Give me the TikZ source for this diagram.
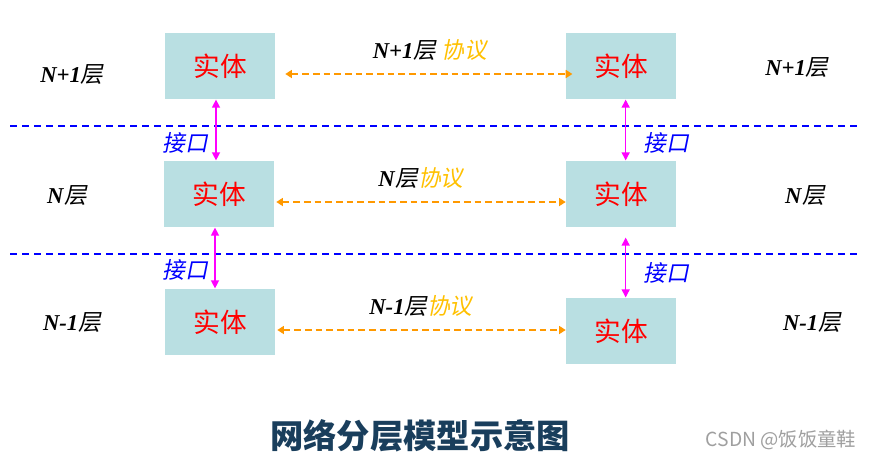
\documentclass[tikz,border=0pt]{standalone}
\usepackage{fontspec}
\setmainfont{Liberation Serif}
\newfontfamily\cjk{Noto Sans CJK SC}
\newfontfamily\cjkit{Noto Sans CJK SC}[FakeSlant=0.2]
\usetikzlibrary{arrows.meta}
\definecolor{boxblue}{RGB}{185,223,226}
\definecolor{protoorange}{RGB}{255,153,0}
\definecolor{protoyellow}{RGB}{255,192,0}
\definecolor{titleblue}{RGB}{25,62,92}
\definecolor{ifacepink}{RGB}{255,0,255}
\newcommand{\lyr}[1]{\textbf{\textit{#1}}{\cjkit 层}}

\tikzset{
  entity/.style={fill=boxblue,minimum width=82.5pt,minimum height=50pt,inner sep=0pt,
    font=\cjk\fontsize{20}{24}\selectfont,text=red},
  proto/.style={{Triangle[width=6pt,length=5pt]}-{Triangle[width=6pt,length=5pt]},protoorange,line width=1.4pt,
    dash pattern=on 5pt off 3pt},
  iface/.style={{Triangle[width=6pt,length=6pt]}-{Triangle[width=6pt,length=6pt]},ifacepink,line width=1pt},
  sep/.style={blue,line width=1.4pt,dash pattern=on 5.5pt off 3.5pt},
  lbl/.style={font=\fontsize{17}{20}\selectfont},
}

\begin{document}
\begin{tikzpicture}[x=0.75pt,y=-0.75pt]
\useasboundingbox (0,0) rectangle (871,457);
% entities
\node[entity] (ul) at (220,66) {实体};
\node[entity] (ur) at (621,66) {实体};
\node[entity] (ml) at (219,194) {实体};
\node[entity] (mr) at (621,194) {实体};
\node[entity] (ll) at (220,322) {实体};
\node[entity] (lr) at (621,331) {实体};
% layer separators
\foreach \n/\y in {1/126,2/254} {
  \coordinate (s\n a) at (10,\y);
  \coordinate (s\n b) at (857,\y);
  \draw[sep] (s\n a) -- (s\n b);
}
% layer names
\node[lbl] (l1) at (72,75) {\lyr{N+1}};
\node[lbl] (l2) at (67,196) {\lyr{N}};
\node[lbl] (l3) at (72,323) {\lyr{N-1}};
\node[lbl] (r1) at (797,68) {\lyr{N+1}};
\node[lbl] (r2) at (805,196) {\lyr{N}};
\node[lbl] (r3) at (812,323) {\lyr{N-1}};
% protocols
\node[lbl] (p1) at (430,50) {\lyr{N+1}\ {\cjkit\color{protoyellow}协议}};
\node[lbl] (p2) at (421,178) {\lyr{N}{\cjkit\color{protoyellow}协议}};
\node[lbl] (p3) at (421,306) {\lyr{N-1}{\cjkit\color{protoyellow}协议}};
\draw[proto,shorten <=7.5pt,shorten >=-5pt] ([yshift=-6pt]ul.east) -- ([yshift=-6pt]ul.east -| ur.west);
\draw[proto,shorten <=1.5pt] ([yshift=-6pt]ml.east) -- ([yshift=-6pt]ml.east -| mr.west);
\draw[proto,shorten <=1.5pt] ([yshift=-6pt]ll.east) -- ([yshift=-6pt]ll.east -| lr.west);
% interfaces
\node[lbl,text=blue] (i1) at (185,143) {\cjkit 接口};
\node[lbl,text=blue] (i2) at (666,143) {\cjkit 接口};
\node[lbl,text=blue] (i3) at (185,270) {\cjkit 接口};
\node[lbl,text=blue] (i4) at (666,273) {\cjkit 接口};
\draw[iface] ([xshift=-3pt]ul.south) -- ([xshift=-3pt]ul.south |- ml.north);
\draw[iface] ([xshift=3.5pt]ur.south) -- ([xshift=3.5pt]ur.south |- mr.north);
\draw[iface] ([xshift=-3pt]ml.south) -- ([xshift=-3pt]ml.south |- ll.north);
\draw[iface,shorten <=7.5pt] ([xshift=3.5pt]mr.south) -- ([xshift=3.5pt]mr.south |- lr.north);
% title
\node[font=\cjk\bfseries\fontsize{25}{30}\selectfont,text=titleblue] (title) at (420,436) {网络分层模型示意图};
\node[font=\cjk\fontsize{14.5}{17}\selectfont,text=gray!75] (mark) at (781,440) {CSDN @饭饭童鞋};
\end{tikzpicture}
\end{document}
